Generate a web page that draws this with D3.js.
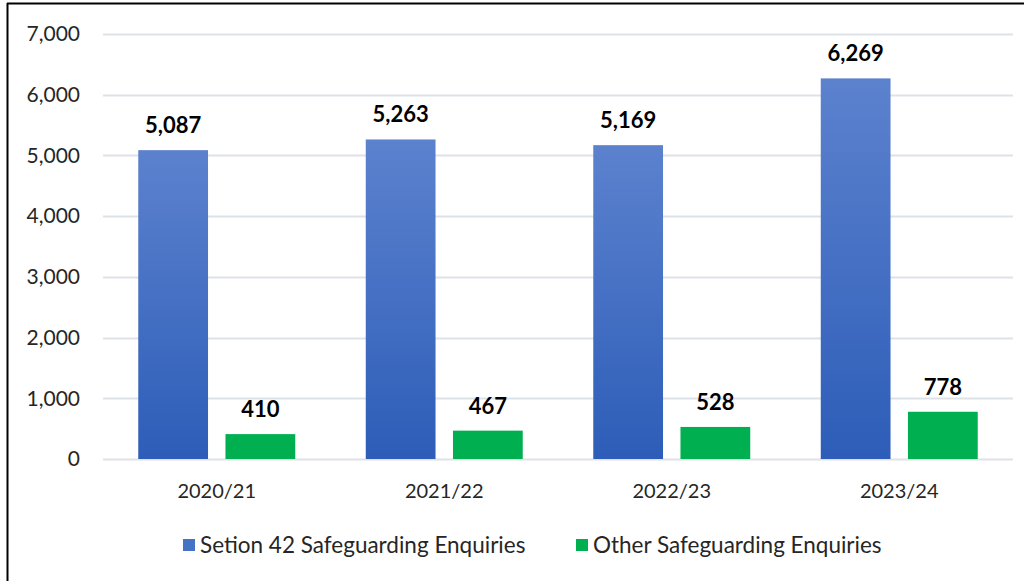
<!DOCTYPE html>
<html>
<head>
<meta charset="utf-8">
<script src="https://cdn.jsdelivr.net/npm/d3@7"></script>
<style>
  body { margin: 0; background: #fff; }
  svg text { font-family: Lato, "Open Sans", sans-serif; fill: #262626; }
</style>
</head>
<body>
<div id="chartContainer"></div>
<script>
// chart data
const years = ['2020/21', '2021/22', '2022/23', '2023/24'];
const seriesNames = ['Setion 42 Safeguarding Enquiries', 'Other Safeguarding Enquiries'];
const section42 = [5087, 5263, 5169, 6269];
const otherEnquiries = [410, 467, 528, 778];
const yTicks = [0, 1000, 2000, 3000, 4000, 5000, 6000, 7000];

const width = 1032, height = 581;
const margin = { top: 34, right: 19, bottom: 122, left: 103 };

const svg = d3.select('#chartContainer').append('svg')
    .attr('width', width)
    .attr('height', height);

// blue gradient, lighter at the top
const grad = svg.append('defs').append('linearGradient')
    .attr('id', 'blueGrad')
    .attr('x1', 0).attr('y1', 0).attr('x2', 0).attr('y2', 1);
grad.append('stop').attr('offset', '0%').attr('stop-color', '#5c82ce');
grad.append('stop').attr('offset', '100%').attr('stop-color', '#2d5db8');

const seriesColors = ['url(#blueGrad)', '#00b050'];
const legendColors = ['#4472c4', '#00b050'];

const x0 = d3.scaleBand()
    .domain(years)
    .range([margin.left, width - margin.right])
    .paddingInner(0.31)
    .paddingOuter(0.155);

const x1 = d3.scaleBand()
    .domain(seriesNames)
    .range([0, x0.bandwidth()])
    .paddingInner(0.2);

const y = d3.scaleLinear()
    .domain([0, 7000])
    .range([height - margin.bottom, margin.top]);

const fmt = d3.format(',');

// gridlines
svg.append('g')
    .selectAll('line')
    .data(yTicks)
    .join('line')
    .attr('x1', margin.left)
    .attr('x2', width - margin.right)
    .attr('y1', d => Math.round(y(d)) + 0.5)
    .attr('y2', d => Math.round(y(d)) + 0.5)
    .attr('stroke', '#dde1e8')
    .attr('stroke-width', 2);

// y axis labels
svg.append('g')
    .selectAll('text')
    .data(yTicks)
    .join('text')
    .attr('x', 80)
    .attr('y', d => y(d))
    .attr('dy', '0.35em')
    .attr('text-anchor', 'end')
    .style('font-size', '21px')
    .text(d => fmt(d));

// bars
const rows = years.map((yr, i) => ({ year: yr, values: [section42[i], otherEnquiries[i]] }));

const groups = svg.append('g')
    .selectAll('g')
    .data(rows)
    .join('g')
    .attr('transform', d => `translate(${x0(d.year)},0)`);

groups.selectAll('rect')
    .data(d => d.values.map((v, i) => ({ name: seriesNames[i], value: v, idx: i })))
    .join('rect')
    .attr('x', d => x1(d.name))
    .attr('width', x1.bandwidth())
    .attr('y', d => y(d.value))
    .attr('height', d => y(0) - y(d.value))
    .attr('fill', d => seriesColors[d.idx]);

groups.selectAll('.valueLabel')
    .data(d => d.values.map((v, i) => ({ name: seriesNames[i], value: v })))
    .join('text')
    .attr('class', 'valueLabel')
    .attr('x', d => x1(d.name) + x1.bandwidth() / 2)
    .attr('y', d => y(d.value) - 17)
    .attr('text-anchor', 'middle')
    .style('font-size', '22px')
    .style('font-weight', 'bold')
    .style('fill', '#000')
    .text(d => fmt(d.value));

// category labels
svg.append('g')
    .selectAll('text')
    .data(years)
    .join('text')
    .attr('x', d => x0(d) + x0.bandwidth() / 2)
    .attr('y', 498)
    .attr('text-anchor', 'middle')
    .style('font-size', '20px')
    .text(d => d);

// legend
const legendX = [183, 576];
const legend = svg.append('g')
    .selectAll('g')
    .data(seriesNames)
    .join('g')
    .attr('transform', (d, i) => `translate(${legendX[i]},545)`);
legend.append('rect')
    .attr('x', 0).attr('y', -6)
    .attr('width', 12).attr('height', 12)
    .attr('fill', (d, i) => legendColors[i]);
legend.append('text')
    .attr('x', 17)
    .attr('dy', '0.35em')
    .style('font-size', '22.5px')
    .text(d => d);

// frame: top and left edges only
svg.append('line')
    .attr('x1', 7).attr('x2', 1024)
    .attr('y1', 3.5).attr('y2', 3.5)
    .attr('stroke', '#000').attr('stroke-width', 2);
svg.append('line')
    .attr('x1', 7.5).attr('x2', 7.5)
    .attr('y1', 3).attr('y2', height)
    .attr('stroke', '#000').attr('stroke-width', 2);
</script>
</body>
</html>
